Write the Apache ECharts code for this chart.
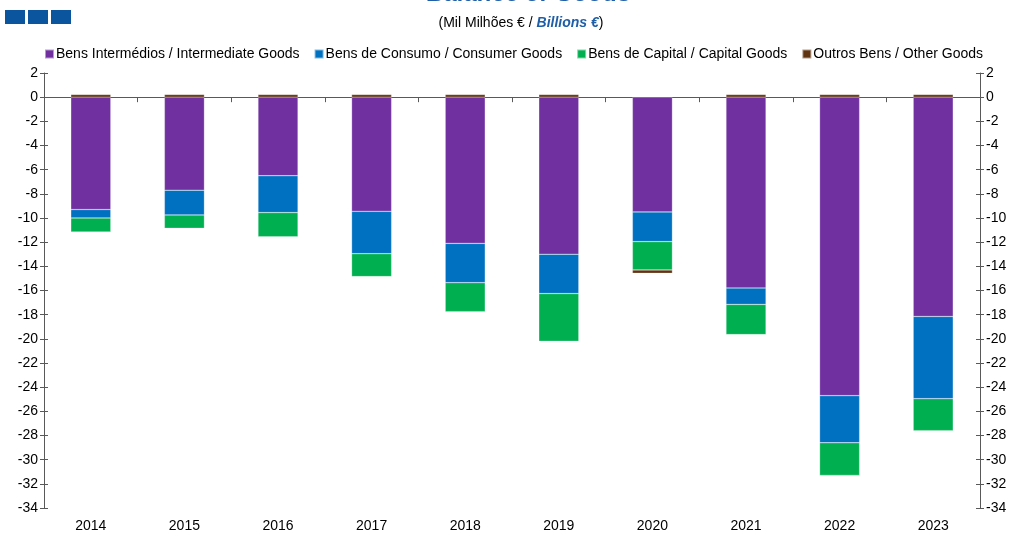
<!DOCTYPE html>
<html>
<head>
<meta charset="utf-8">
<script src="https://cdn.jsdelivr.net/npm/echarts@6/dist/echarts.min.js"></script>
<style>html,body{margin:0;padding:0;background:#fff}#c{width:1012px;height:533px}</style>
</head>
<body>
<div id="c"></div>
<script>
var years = ['2014','2015','2016','2017','2018','2019','2020','2021','2022','2023'];
var seriesNames = ['Bens Intermédios / Intermediate Goods','Bens de Consumo / Consumer Goods','Bens de Capital / Capital Goods','Outros Bens / Other Goods'];
var intermediate = [-9.3, -7.7, -6.5, -9.45, -12.1, -13.0, -9.5, -15.8, -24.7, -18.15];
var consumer     = [-0.7, -2.05, -3.05, -3.5, -3.25, -3.25, -2.45, -1.35, -3.9, -6.8];
var capital      = [-1.15, -1.1, -2.0, -1.9, -2.4, -3.95, -2.35, -2.5, -2.7, -2.65];
var other        = [0.22, 0.22, 0.22, 0.22, 0.22, 0.22, -0.28, 0.22, 0.22, 0.22];
var colors = ['#7030A0','#0070C0','#00B050','#603311'];
var yMin = -34, yMax = 2, yStep = 2;

var chart = echarts.init(document.getElementById('c'));
var font = 'Liberation Sans, Arial, sans-serif';
var axisColor = '#595959';
function bar(name, data, color) {
  return {
    name: name, type: 'bar', stack: 'total', data: data, barWidth: 40,
    xAxisIndex: 0, yAxisIndex: 0,
    itemStyle: {color: color, borderColor: 'rgba(255,255,255,0.5)', borderWidth: 0.5},
    emphasis: {disabled: true}
  };
}
function yAx(pos, inside, labels) {
  return {
    type: 'value', min: yMin, max: yMax, interval: yStep, position: pos,
    splitLine: {show: false},
    axisLine: {show: labels, lineStyle: {color: axisColor, width: 1}},
    axisTick: {show: true, inside: inside, length: 4, lineStyle: {color: axisColor}},
    axisLabel: {show: labels, color: '#000', fontSize: 14, fontFamily: font, margin: 6}
  };
}
chart.setOption({
  animation: false,
  title: [
    {
      text: 'Balance of Goods', left: 524, textAlign: 'center', top: -23,
      textStyle: {color: '#1F5FA8', fontSize: 24, fontWeight: 'bold', fontStyle: 'italic', fontFamily: font}
    },
    {
      text: '{n|(Mil Milhões € / }{b|Billions €}{n|)}', left: 516, textAlign: 'center', top: 11,
      textStyle: {
        fontWeight: 'normal',
        rich: {
          n: {color: '#000', fontSize: 14, fontWeight: 'normal', fontFamily: font},
          b: {color: '#1F5FA8', fontSize: 14, fontWeight: 'bold', fontStyle: 'italic', fontFamily: font}
        }
      }
    }
  ],
  graphic: [
    {type: 'rect', shape: {x: 5, y: 10, width: 20, height: 14}, style: {fill: '#0B559F'}},
    {type: 'rect', shape: {x: 28, y: 10, width: 20, height: 14}, style: {fill: '#0B559F'}},
    {type: 'rect', shape: {x: 51, y: 10, width: 20, height: 14}, style: {fill: '#0B559F'}}
  ],
  legend: {
    top: 42, left: 39, itemWidth: 9, itemHeight: 9, itemGap: 14,
    icon: 'rect', data: seriesNames,
    textStyle: {color: '#000', fontSize: 14, fontFamily: font, padding: [0,0,0,-3]}
  },
  grid: {left: 44, right: 32, top: 73, bottom: 23, containLabel: false},
  xAxis: [
    {type: 'category', data: years, position: 'bottom',
     axisLine: {show: false, onZero: false}, axisTick: {show: false},
     axisLabel: {color: '#000', fontSize: 14, fontFamily: font, margin: 11}},
    {type: 'category', data: years, position: 'bottom',
     axisLine: {show: true, onZero: true, onZeroAxisIndex: 0, lineStyle: {color: axisColor}},
     axisTick: {show: true, length: 5, interval: 0, lineStyle: {color: axisColor}},
     axisLabel: {show: false}}
  ],
  yAxis: [
    yAx('left', false, true),
    yAx('right', false, true),
    yAx('left', true, false),
    yAx('right', true, false)
  ],
  series: [
    bar(seriesNames[0], intermediate, colors[0]),
    bar(seriesNames[1], consumer, colors[1]),
    bar(seriesNames[2], capital, colors[2]),
    bar(seriesNames[3], other, colors[3])
  ]
});
</script>
</body>
</html>
